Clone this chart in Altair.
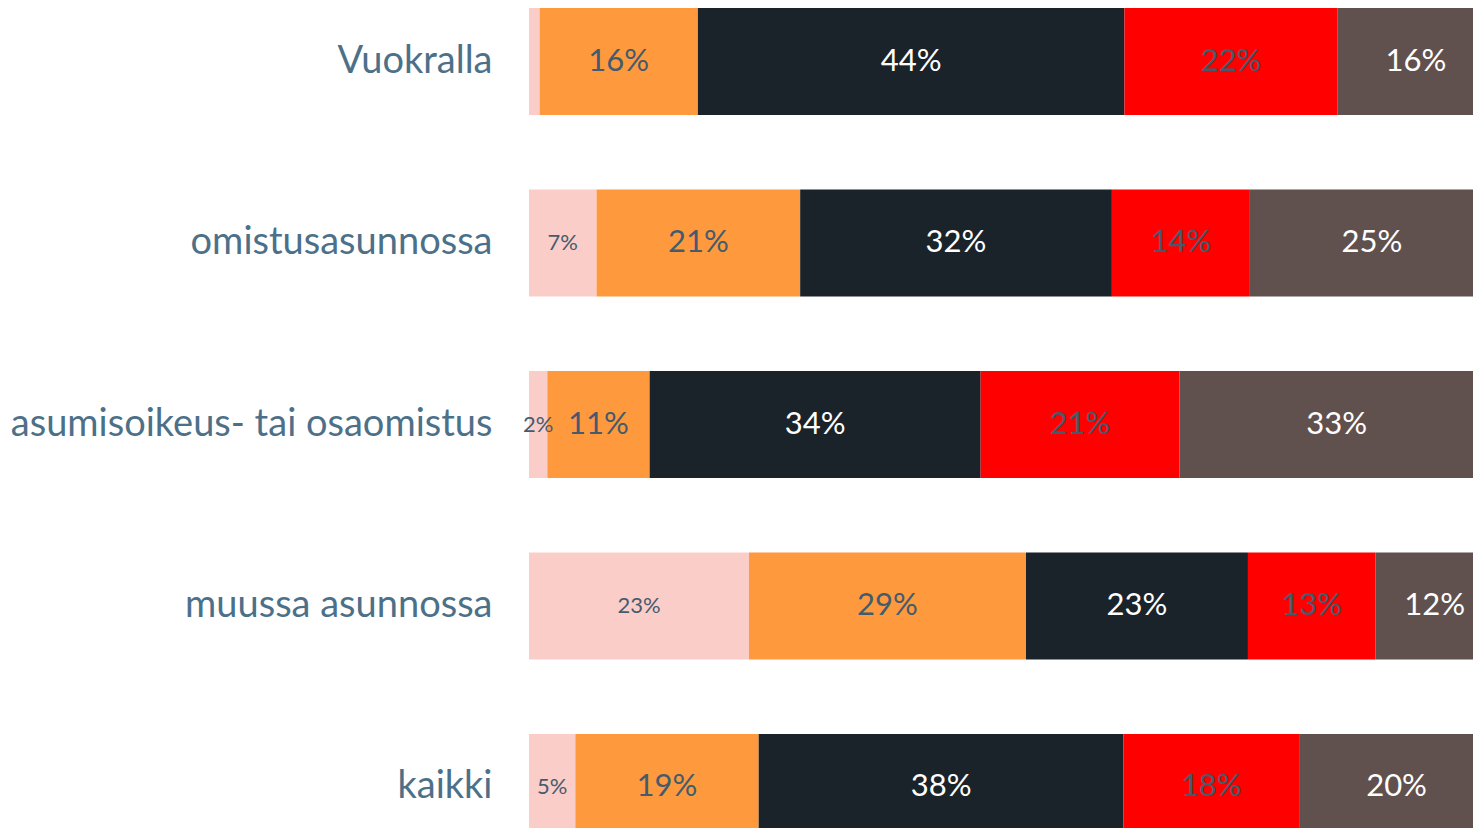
import altair as alt
import pandas as pd

categories = ["Vuokralla", "omistusasunnossa", "asumisoikeus- tai osaomistus",
              "muussa asunnossa", "kaikki"]
segments = ["s1", "s2", "s3", "s4", "s5"]
pink = [1.1, 7.0, 1.9, 22.8, 4.8]
orange = [16.4, 21.1, 10.6, 28.7, 19.0]
black = [44.2, 32.3, 34.3, 23.0, 37.8]
red = [22.1, 14.3, 20.6, 13.2, 18.2]
brown = [16.2, 25.3, 32.6, 12.3, 20.2]

colors = ["#fbcdc9", "#fe9a3d", "#1b232a", "#ff0000", "#61514e"]
text_colors = ["#455b6d", "#455b6d", "#ffffff", "#455b6d", "#ffffff"]

rows = []
for ci, cat in enumerate(categories):
    for si, series in enumerate([pink, orange, black, red, brown]):
        v = series[ci]
        rows.append({
            "cat": cat,
            "seg": segments[si],
            "order": si,
            "value": v,
            "label": f"{round(v)}%" if v >= 1.5 else "",
            "tcolor": text_colors[si],
        })
df = pd.DataFrame(rows)

y_enc = alt.Y(
    "cat:N",
    sort=categories,
    scale=alt.Scale(paddingInner=0.41, paddingOuter=0, range=[0, 833]),
    axis=alt.Axis(title=None, ticks=False, domain=False, grid=False,
                  labelFontSize=38, labelFont="Lato", labelColor="#4d7089",
                  labelPadding=37, minExtent=521, maxExtent=521, labelLimit=700),
)

base = alt.Chart(df).transform_stack(
    stack="value", groupby=["cat"], sort=[alt.SortField("order")], as_=["x0", "x1"]
).transform_calculate(mid="(datum.x0 + datum.x1) / 2")

xscale = alt.Scale(domain=[0, 97.82], nice=False)

bars = base.mark_bar(clip=True).encode(
    y=y_enc,
    x=alt.X("x0:Q", scale=xscale, axis=None),
    x2="x1:Q",
    color=alt.Color("seg:N", scale=alt.Scale(domain=segments, range=colors), legend=None),
)

big_text = base.transform_filter("datum.order > 0").mark_text(
    font="Lato", fontSize=31, baseline="middle", align="center"
).encode(
    y=y_enc,
    x=alt.X("mid:Q", scale=xscale, axis=None),
    text="label:N",
    color=alt.Color("tcolor:N", scale=None),
)

small_text = base.transform_filter("datum.order == 0").mark_text(
    font="Lato", fontSize=22, baseline="middle", align="center"
).encode(
    y=y_enc,
    x=alt.X("mid:Q", scale=xscale, axis=None),
    text="label:N",
    color=alt.Color("tcolor:N", scale=None),
)

chart = alt.layer(bars, big_text, small_text).properties(
    width=944, height=820, padding=0
).configure_view(stroke=None)

chart.save("out.html", embed_options={"renderer": "svg", "actions": False})
